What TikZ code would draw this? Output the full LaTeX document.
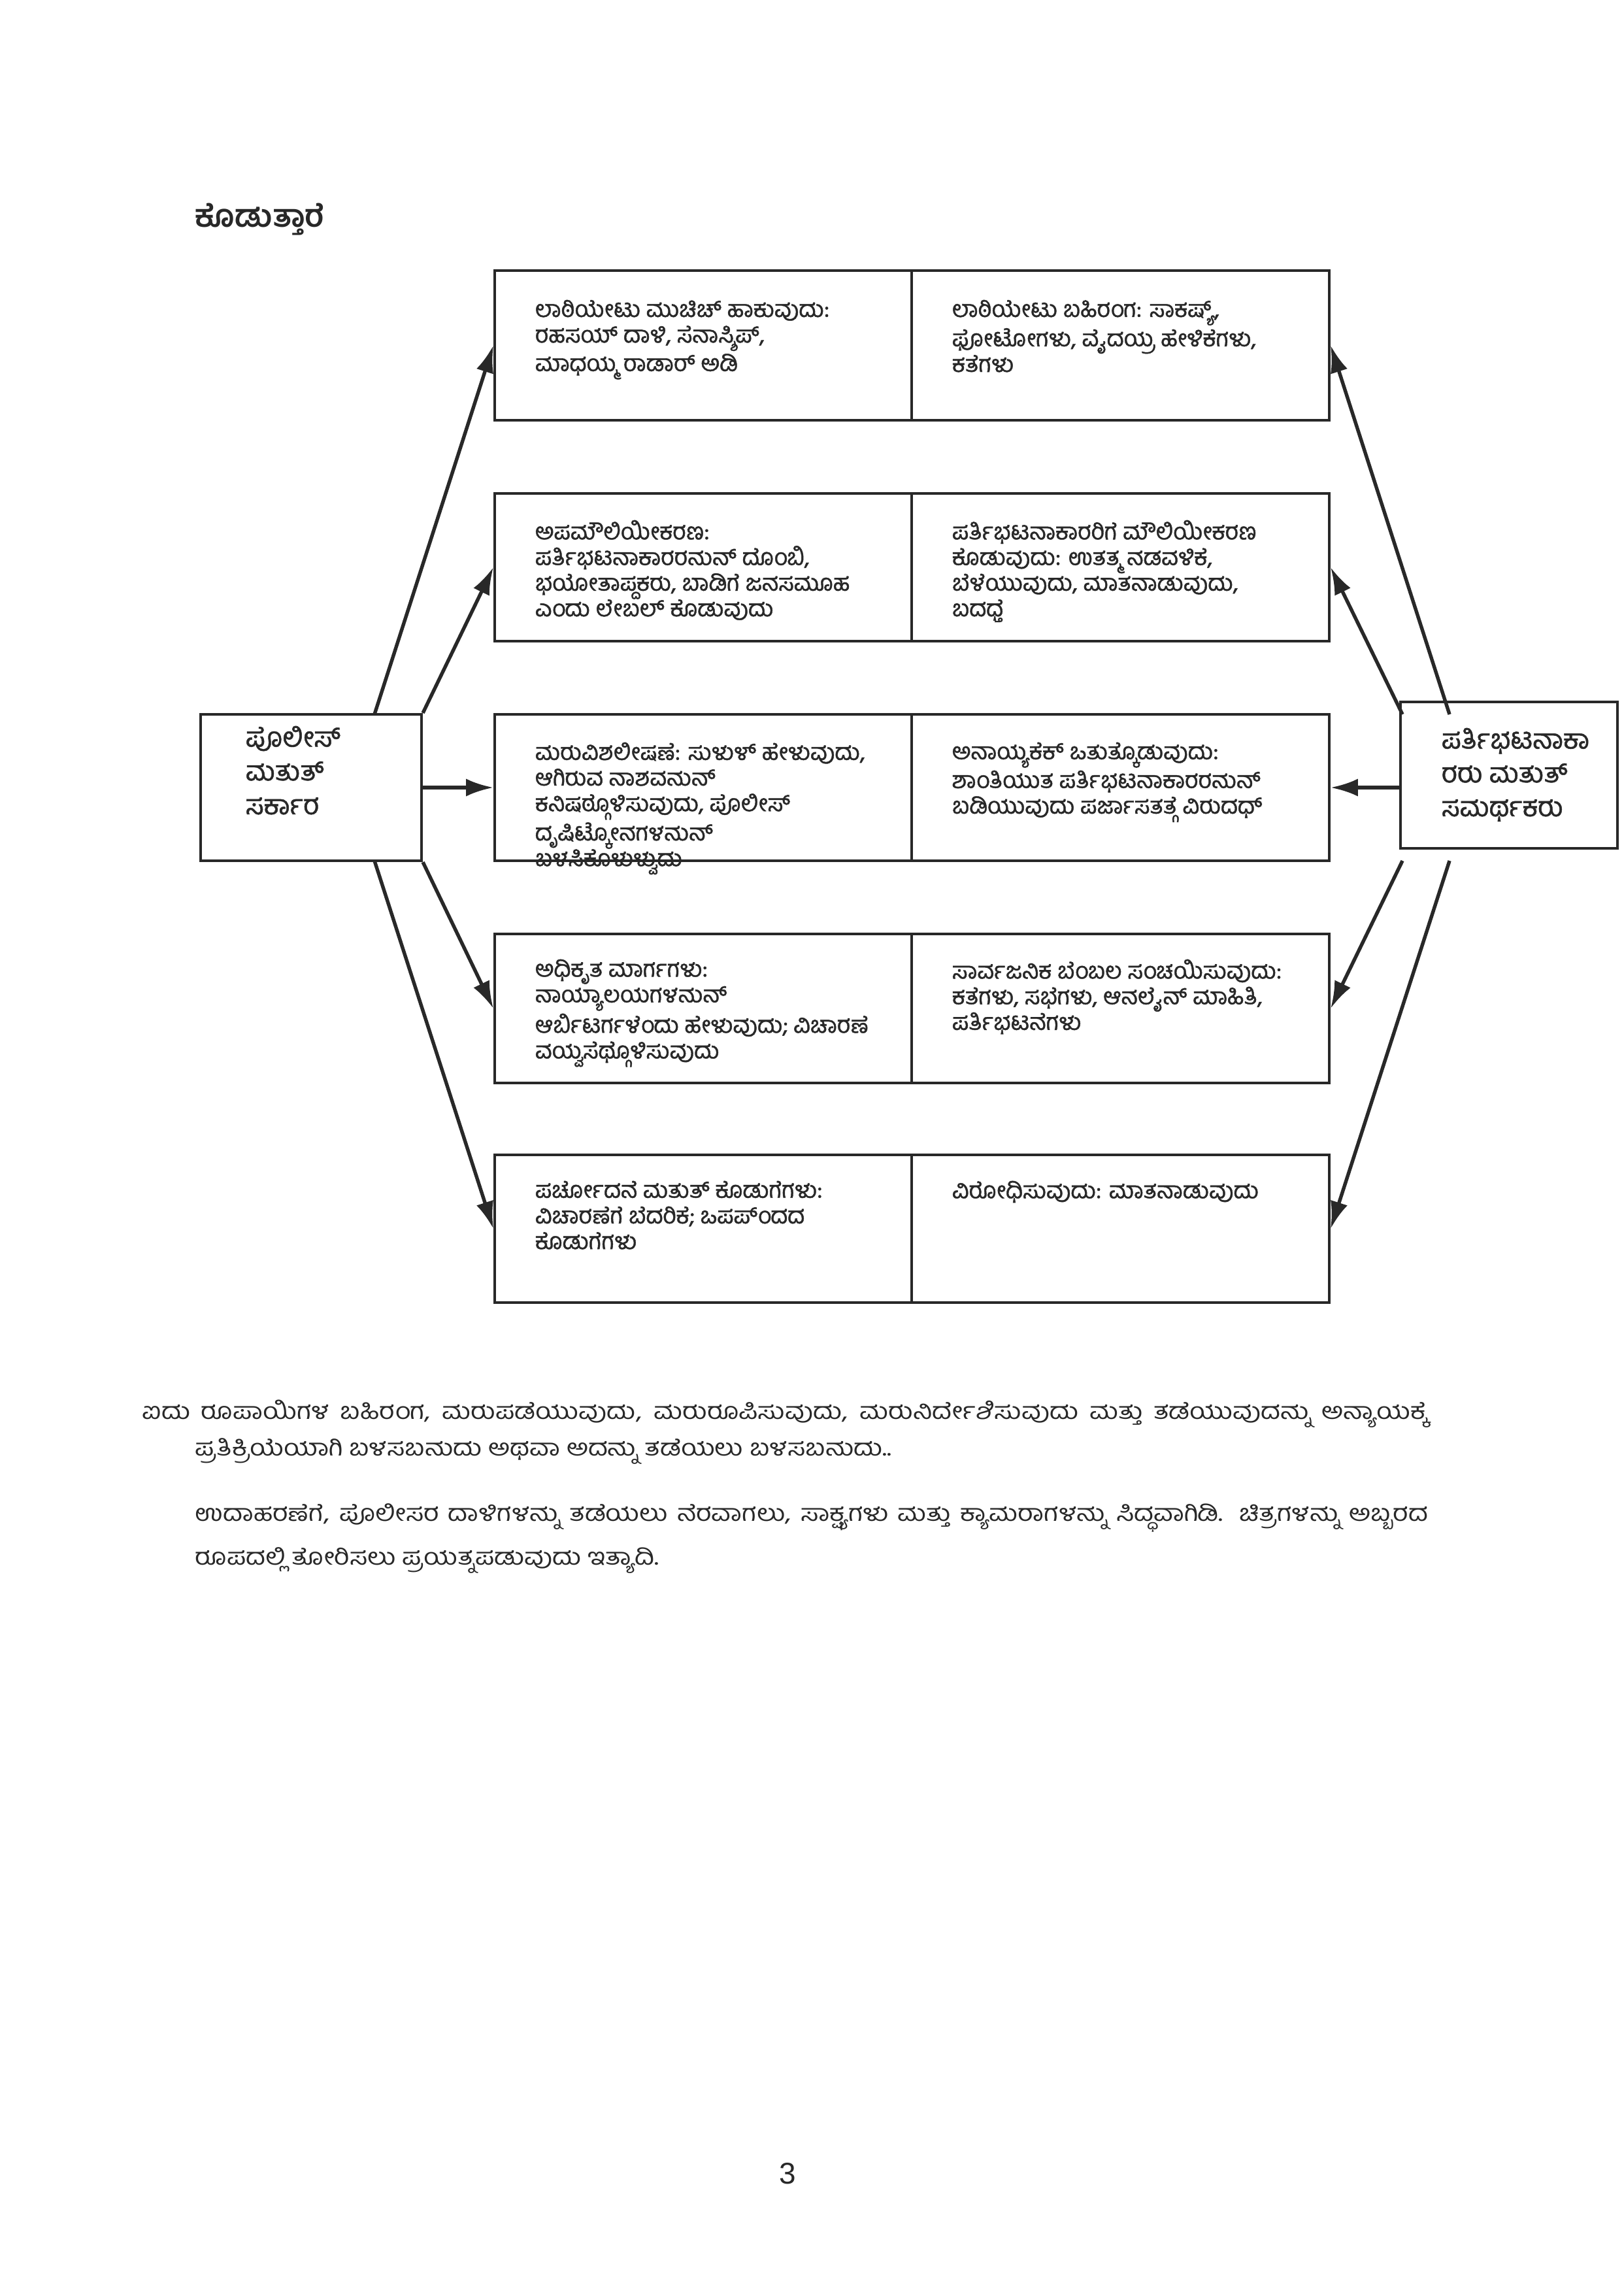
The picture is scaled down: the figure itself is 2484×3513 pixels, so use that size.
\documentclass[tikz,border=0pt]{standalone}
\usepackage{fontspec}
\usetikzlibrary{arrows.meta,fit}
\newfontfamily\kn[Script=Kannada]{Hind Mysuru}
\newfontfamily\knh[Script=Kannada,FakeBold=1.2]{Hind Mysuru}
\newfontfamily\knp[Script=Kannada,FakeStretch=1.15]{Hind Mysuru}
\newfontfamily\numf{Liberation Sans}
\definecolor{ink}{RGB}{40,40,40}
\begin{document}
\begin{tikzpicture}[x=0.23965pt,y=-0.23965pt,
  cell/.style={draw=ink, line width=1pt, inner sep=0pt},
  txt/.style={anchor=north west, inner sep=0pt, align=left, text=ink, font=\knh\fontsize{8.5}{9.4}\selectfont},
  side/.style={anchor=north west, inner sep=0pt, align=left, text=ink, font=\knh\fontsize{10}{12.4}\selectfont},
  para/.style={anchor=west, inner sep=0pt, text=ink, font=\knp\fontsize{8.5}{10}\selectfont},
  arr/.style={draw=ink, line width=1.3pt, -{Latex[length=10pt,width=6.5pt]}}]
\useasboundingbox[fill=white] (0,0) rectangle (2484,3513);

\node[anchor=north west, inner sep=0pt, text=ink, font=\kn\bfseries\fontsize{11.5}{13}\selectfont] (title) at (298,310) {ಕೊಡುತ್ತಾರೆ};

% grid cells
\node[cell, fit={(757,414) (1395,643)}] (r1a) {};
\node[cell, fit={(1395,414) (2034,643)}] (r1b) {};
\node[cell, fit={(757,755) (1395,981)}] (r2a) {};
\node[cell, fit={(1395,755) (2034,981)}] (r2b) {};
\node[cell, fit={(757,1093) (1395,1317)}] (r3a) {};
\node[cell, fit={(1395,1093) (2034,1317)}] (r3b) {};
\node[cell, fit={(757,1429) (1395,1657)}] (r4a) {};
\node[cell, fit={(1395,1429) (2034,1657)}] (r4b) {};
\node[cell, fit={(757,1767) (1395,1993)}] (r5a) {};
\node[cell, fit={(1395,1767) (2034,1993)}] (r5b) {};

% side boxes
\node[cell, fit={(307,1093) (645,1317)}] (pol) {};
\node[cell, fit={(2143,1074) (2475,1298)}] (pro) {};

% texts
\node[txt] (t1a) at (818,458) {ಲಾಠಿಯೇಟು ಮುಚಿಚ್ ಹಾಕುವುದು:\\ರಹಸಯ್ ದಾಳಿ, ಸೆನಾಸ್ಶಿಪ್,\\ಮಾಧಯ್ಮ ರಾಡಾರ್ ಅಡಿ};
\node[txt] (t1b) at (1456,458) {ಲಾಠಿಯೇಟು ಬಹಿರಂಗ: ಸಾಕಷ್ಯ್,\\ಫೋಟೋಗಳು, ವೈದಯ್ರ ಹೇಳಿಕೆಗಳು,\\ಕತೆಗಳು};
\node[txt] (t2a) at (818,795) {ಅಪಮೌಲಿಯೀಕರಣ:\\ಪರ್ತಿಭಟನಾಕಾರರನುನ್ ದೊಂಬಿ,\\ಭಯೋತಾಪ್ದಕರು, ಬಾಡಿಗೆ ಜನಸಮೂಹ\\ಎಂದು ಲೇಬಲ್ ಕೊಡುವುದು};
\node[txt] (t2b) at (1456,795) {ಪರ್ತಿಭಟನಾಕಾರರಿಗೆ ಮೌಲಿಯೀಕರಣ\\ಕೊಡುವುದು: ಉತತ್ಮ ನಡವಳಿಕೆ,\\ಬೆಳೆಯುವುದು, ಮಾತನಾಡುವುದು,\\ಬದಧ್ತೆ};
\node[txt] (t3a) at (818,1135) {ಮರುವಿಶಲೀಷಣೆ: ಸುಳುಳ್ ಹೇಳುವುದು,\\ಆಗಿರುವ ನಾಶವನುನ್\\ಕನಿಷಠ್ಗೊಳಿಸುವುದು, ಪೊಲೀಸ್\\ದೃಷಿಟ್ಕೋನಗಳನುನ್\\ಬಳಸಿಕೊಳುಳ್ವುದು};
\node[txt] (t3b) at (1456,1135) {ಅನಾಯ್ಯಕೆಕ್ ಒತುತ್ಕೊಡುವುದು:\\ಶಾಂತಿಯುತ ಪರ್ತಿಭಟನಾಕಾರರನುನ್\\ಬಡಿಯುವುದು ಪರ್ಜಾಸತತ್ಗೆ ವಿರುದಧ್};
\node[txt] (t4a) at (818,1467) {ಅಧಿಕೃತ ಮಾರ್ಗಗಳು:\\ನಾಯ್ಯಾಲಯಗಳನುನ್\\ಆರ್ಬಿಟರ್ಗಳೆಂದು ಹೇಳುವುದು; ವಿಚಾರಣೆ\\ವಯ್ವಸೆಥ್ಗೊಳಿಸುವುದು};
\node[txt] (t4b) at (1456,1467) {ಸಾರ್ವಜನಿಕ ಬೆಂಬಲ ಸಂಚಯಿಸುವುದು:\\ಕತೆಗಳು, ಸಭೆಗಳು, ಆನಲೈನ್ ಮಾಹಿತಿ,\\ಪರ್ತಿಭಟನೆಗಳು};
\node[txt] (t5a) at (818,1806) {ಪರ್ಚೋದನೆ ಮತುತ್ ಕೊಡುಗೆಗಳು:\\ವಿಚಾರಣೆಗೆ ಬೆದರಿಕೆ; ಒಪಪ್ಂದದ\\ಕೊಡುಗೆಗಳು};
\node[txt] (t5b) at (1456,1806) {ವಿರೋಧಿಸುವುದು: ಮಾತನಾಡುವುದು};

\node[side] (tpol) at (375,1110) {ಪೊಲೀಸ್\\ಮತುತ್\\ಸರ್ಕಾರ};
\node[side] (tpro) at (2205,1113) {ಪರ್ತಿಭಟನಾಕಾ\\ರರು ಮತುತ್\\ಸಮರ್ಥಕರು};

% arrow start points
\coordinate (pl1) at (573,1093);
\coordinate (pl5) at (573,1317);
\coordinate (pr1) at (2218,1093);
\coordinate (pr2) at (2146,1093);
\coordinate (pr3) at (2143,1205);
\coordinate (pr4) at (2146,1317);
\coordinate (pr5) at (2218,1317);

\draw[arr] (pl1) -- (r1a.west);
\draw[arr] (pol.north east) -- (r2a.west);
\draw[arr] (pol.east) -- (r3a.west);
\draw[arr] (pol.south east) -- (r4a.west);
\draw[arr] (pl5) -- (r5a.west);

\draw[arr] (pr1) -- (r1b.east);
\draw[arr] (pr2) -- (r2b.east);
\draw[arr] (pr3) -- (r3b.east);
\draw[arr] (pr4) -- (r4b.east);
\draw[arr] (pr5) -- (r5b.east);

% paragraphs
\node[para] (p1a) at (217,2163) {\makebox[471.4pt][s]{ಐದು ರೂಪಾಯಿಗಳ ಬಹಿರಂಗ, ಮರುಪಡೆಯುವುದು, ಮರುರೂಪಿಸುವುದು, ಮರುನಿರ್ದೇಶಿಸುವುದು ಮತ್ತು ತಡೆಯುವುದನ್ನು ಅನ್ಯಾಯಕ್ಕೆ}};
\node[para] (p1b) at (298,2220) {ಪ್ರತಿಕ್ರಿಯೆಯಾಗಿ ಬಳಸಬಹುದು ಅಥವಾ ಅದನ್ನು ತಡೆಯಲು ಬಳಸಬಹುದು..};
\node[para] (p2a) at (298,2322) {\makebox[452.0pt][s]{ಉದಾಹರಣೆಗೆ, ಪೊಲೀಸರ ದಾಳಿಗಳನ್ನು ತಡೆಯಲು ನೆರವಾಗಲು, ಸಾಕ್ಷ್ಯಗಳು ಮತ್ತು ಕ್ಯಾಮರಾಗಳನ್ನು ಸಿದ್ಧವಾಗಿಡಿ. ಚಿತ್ರಗಳನ್ನು ಅಬ್ಬರದ}};
\node[para] (p2b) at (298,2387) {ರೂಪದಲ್ಲಿ ತೋರಿಸಲು ಪ್ರಯತ್ನಪಡುವುದು ಇತ್ಯಾದಿ.};

\node[text=ink, inner sep=0pt, font=\numf\fontsize{11}{13}\selectfont] (pg) at (1205,3326) {3};
\end{tikzpicture}
\end{document}
